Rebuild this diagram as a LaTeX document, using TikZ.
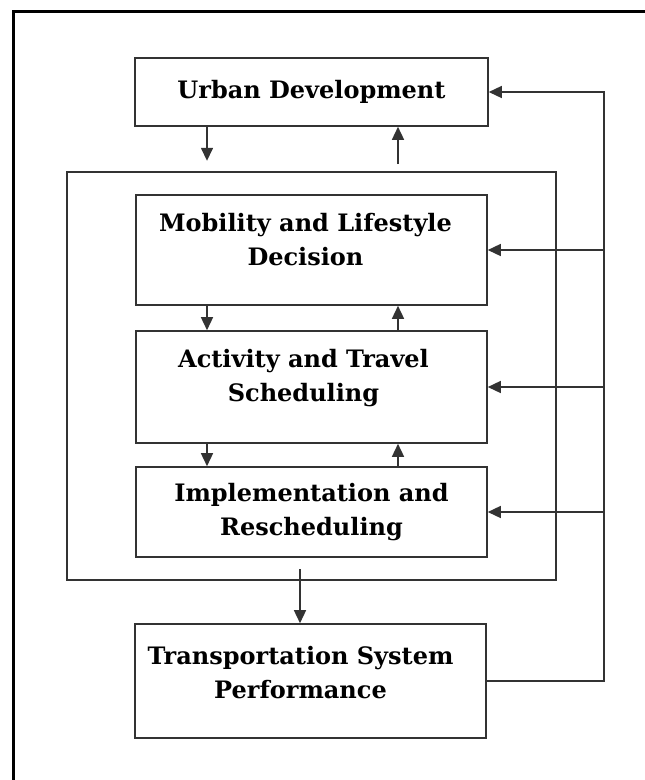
\documentclass[tikz,border=0pt]{standalone}
\usepackage{fontspec}
\setmainfont{DejaVu Serif}
\usetikzlibrary{arrows.meta}

\begin{document}
\begin{tikzpicture}[x=1pt,y=-1pt,
  box/.style={draw=black!80,line width=1.6pt,minimum width=351pt,inner sep=0pt},
  txt/.style={align=center,font=\fontsize{24}{34}\selectfont\bfseries},
  flow/.style={draw=black!80,line width=1.5pt,-{Triangle[length=13pt,width=12pt]}}]
\useasboundingbox (0,0) rectangle (645,780);
\draw[line width=3pt] (13,800) |- (670,11);

% the four layers and the loop box round the middle three
\node[box,minimum width=489pt,minimum height=408pt] (model) at (311.5,376) {};
\node[box,minimum width=353pt,minimum height=68pt,
  label={[txt]center:Urban Development}] (urban) at (311.5,92) {};
\node[box,minimum height=110pt,
  label={[txt,yshift=10pt,xshift=-6pt]center:Mobility and Lifestyle\\Decision}] (mobility) at (311.5,250) {};
\node[box,minimum height=112pt,
  label={[txt,yshift=9pt,xshift=-8pt]center:Activity and Travel\\Scheduling}] (activity) at (311.5,387) {};
\node[box,minimum height=90pt,
  label={[txt]center:Implementation and\\Rescheduling}] (implement) at (311.5,512) {};
\node[box,minimum height=114pt,
  label={[txt,yshift=8pt,xshift=-10pt]center:Transportation System\\Performance}] (transport) at (310.5,681) {};

\coordinate (dn) at (207,0);
\coordinate (up) at (398,0);
\coordinate (bus) at (604,0);

% downward and upward links
\draw[flow] (urban.south -| dn) -- ++(0,34);
\draw[flow] (up |- model.north) ++(0,-7) -- (urban.south -| up);
\draw[flow] (mobility.south -| dn) -- (activity.north -| dn);
\draw[flow] (activity.north -| up) -- (mobility.south -| up);
\draw[flow] (activity.south -| dn) -- (implement.north -| dn);
\draw[flow] (implement.north -| up) -- (activity.south -| up);
\draw[flow] (300,569) -- (transport.north -| 300,0);

% feedback from performance
\draw[flow] (transport.east) -| (bus |- urban.east) -- (urban.east);
\foreach \n in {mobility,activity,implement}
  \draw[flow] (bus |- \n.east) -- (\n.east);
\end{tikzpicture}
\end{document}
